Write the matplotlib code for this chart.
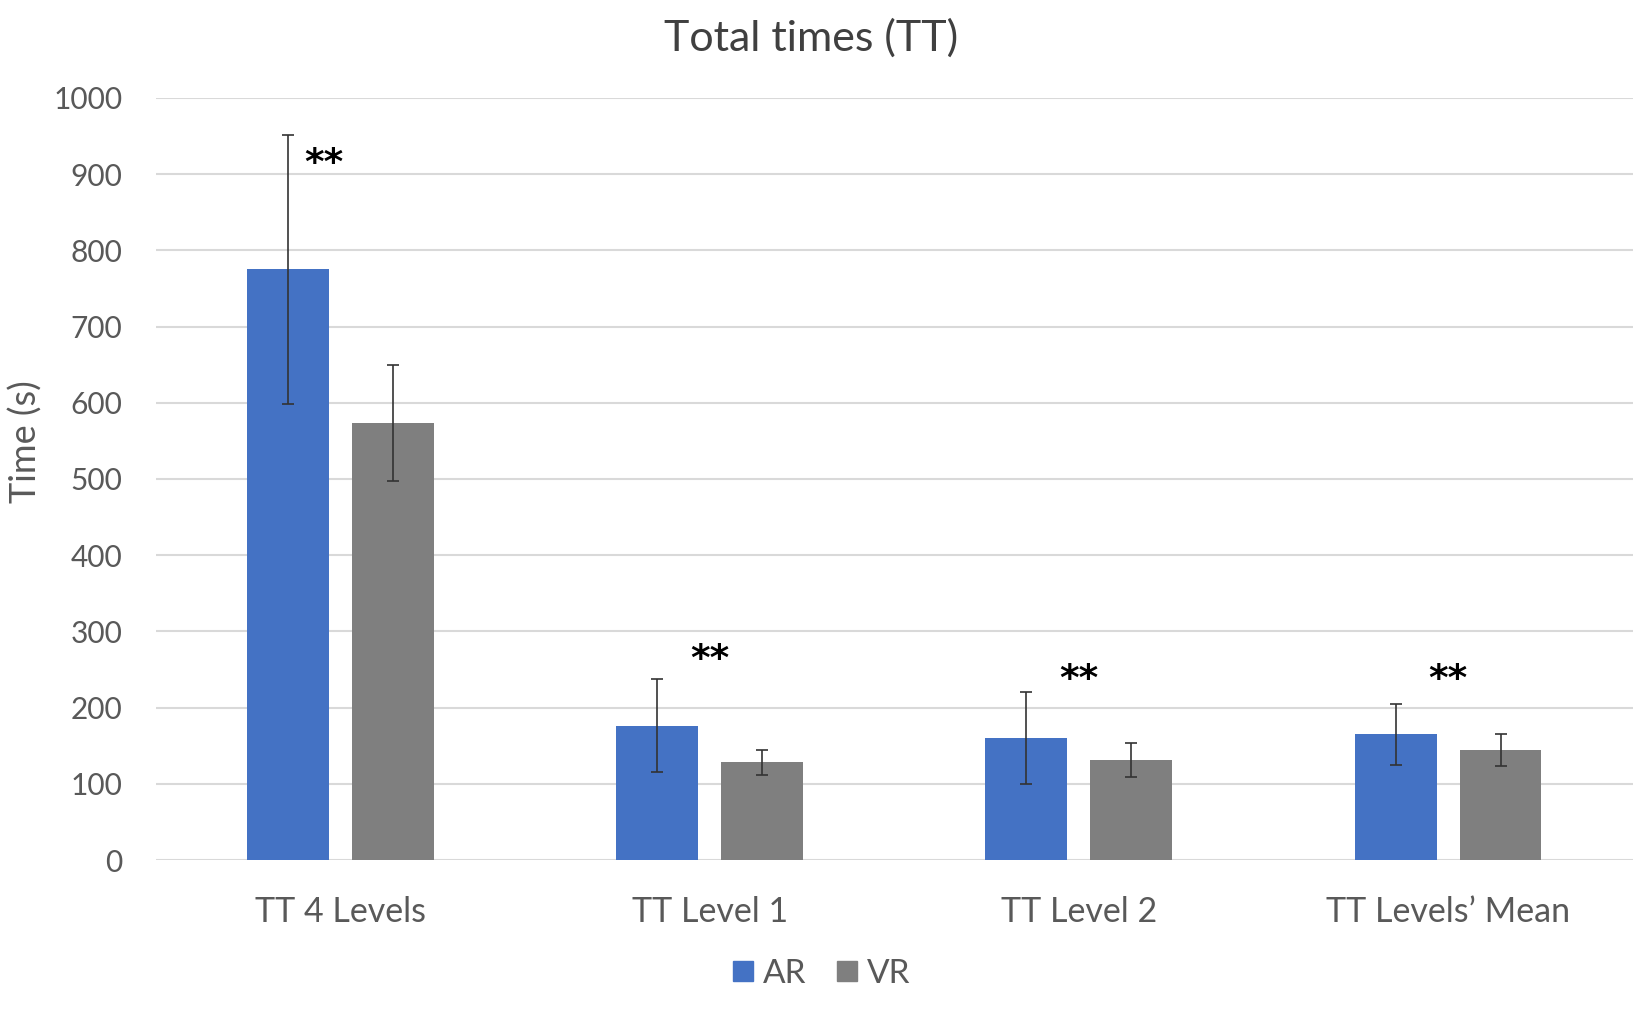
"""
Total times (TT) bar chart, AR vs VR
"""

import matplotlib
matplotlib.use('Agg')

import numpy as np
import matplotlib.pyplot as plt
from matplotlib.lines import Line2D

categories = ['TT 4 Levels', 'TT Level 1', 'TT Level 2', 'TT Levels\u2019 Mean']
ar_mean = [775, 176, 160, 165]
ar_sd = [177, 61, 60, 40]
vr_mean = [574, 128, 131, 144]
vr_sd = [76, 17, 22, 21]
star_y = [914, 262, 236, 236]
star_text = ['**', '**', '**', '**']

AR_COLOR = '#4472C4'
VR_COLOR = '#7F7F7F'
TEXT_COLOR = '#595959'


def main():
    plt.rcParams['font.family'] = ['Lato', 'DejaVu Sans']

    fig = plt.figure(figsize=(16.5, 10.1), dpi=100)
    ax = fig.add_axes([0.0945, 0.1485, 0.895, 0.7545])

    x = np.arange(len(categories))
    w = 0.222
    off = 0.142
    err_kw = dict(ecolor='#333333', elinewidth=1.2, capsize=4, capthick=1.2)

    ax.bar(x - off, ar_mean, w, yerr=ar_sd, color=AR_COLOR, error_kw=err_kw,
           zorder=2)
    ax.bar(x + off, vr_mean, w, yerr=vr_sd, color=VR_COLOR, error_kw=err_kw,
           zorder=2)

    # significance marks
    star_dx = [-0.045, 0, 0, 0]
    for i, (s, y) in enumerate(zip(star_text, star_y)):
        ax.text(x[i] + star_dx[i], y, s, ha='center', va='center',
                fontsize=27, fontweight='bold', color='black',
                family='DejaVu Sans')

    ax.set_xlim(-0.5, len(categories) - 0.5)
    ax.set_ylim(0, 1000)
    ax.set_yticks(np.arange(0, 1001, 100))
    ax.set_xticks(x)
    ax.set_xticklabels(categories)
    ax.tick_params(axis='y', length=0, pad=24, labelsize=21.5,
                   labelcolor=TEXT_COLOR)
    ax.tick_params(axis='x', length=0, pad=26, labelsize=24.5,
                   labelcolor=TEXT_COLOR)

    ax.grid(axis='y', color='#D9D9D9', linewidth=1.5, zorder=0)
    ax.set_axisbelow(True)
    for sp in ax.spines.values():
        sp.set_visible(False)

    ax.set_ylabel('Time (s)', fontsize=26, color=TEXT_COLOR)
    ax.yaxis.set_label_coords(-0.077, 0.549)
    fig.text(0.4915, 0.962, 'Total times (TT)', ha='center', va='center',
             fontsize=31, color='#404040')

    handles = [Line2D([], [], marker='s', ls='', color=AR_COLOR, markersize=14),
               Line2D([], [], marker='s', ls='', color=VR_COLOR, markersize=14)]
    fig.legend(handles, ['AR', 'VR'], loc='center', ncol=2,
               bbox_to_anchor=(0.496, 0.036), frameon=False, fontsize=24,
               labelcolor=TEXT_COLOR, handletextpad=0.1, columnspacing=0.7,
               handlelength=1.0)

    plt.savefig('out.png', dpi=100)


if __name__ == "__main__":
    main()
